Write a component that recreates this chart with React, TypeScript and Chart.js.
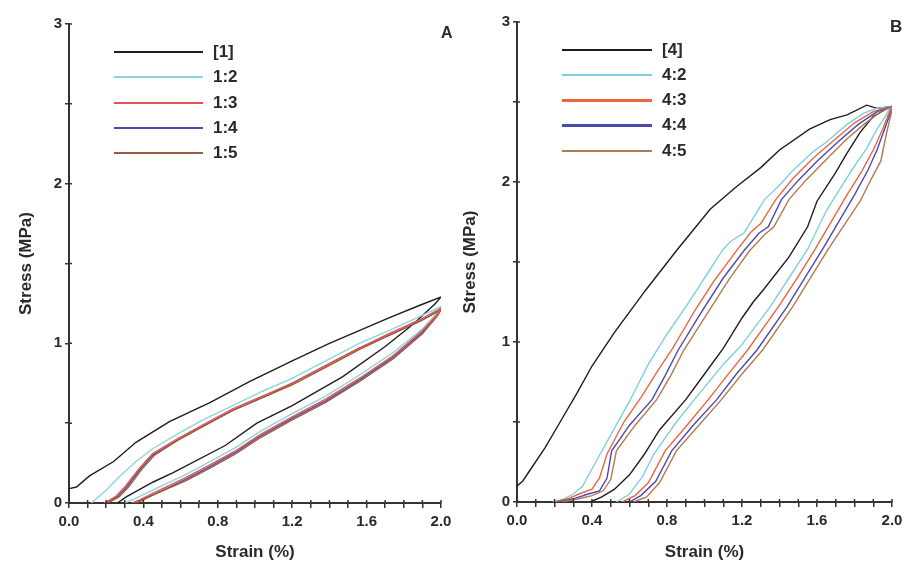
import React, { useEffect, useRef } from "react";
import { Chart, registerables } from "chart.js";
Chart.register(...registerables);

// ---------- Panel A data (strain %, stress MPa), loading then unloading ----------
const A1_strain = [0, 0.04, 0.11, 0.24, 0.36, 0.54, 0.76, 0.97, 1.2, 1.4, 1.56, 1.72, 1.89, 2.0, 1.97, 1.85, 1.7, 1.47, 1.2, 1.01, 0.84, 0.56, 0.45, 0.31, 0.26];
const A1_stress = [0.09, 0.1, 0.17, 0.26, 0.38, 0.51, 0.63, 0.76, 0.89, 1.0, 1.08, 1.16, 1.24, 1.29, 1.25, 1.12, 0.98, 0.79, 0.61, 0.5, 0.36, 0.19, 0.13, 0.04, 0.0];
const A2_strain = [0.12, 0.2, 0.27, 0.36, 0.45, 0.58, 0.72, 0.88, 1.04, 1.2, 1.38, 1.56, 1.72, 1.89, 2.0, 1.98, 1.9, 1.74, 1.56, 1.38, 1.2, 1.03, 0.9, 0.76, 0.63, 0.45, 0.36, 0.3];
const A2_stress = [0, 0.08, 0.165, 0.26, 0.34, 0.43, 0.52, 0.61, 0.7, 0.78, 0.89, 1.0, 1.08, 1.17, 1.23, 1.19, 1.09, 0.94, 0.8, 0.67, 0.56, 0.45, 0.35, 0.26, 0.18, 0.08, 0.03, 0];
const A3_strain = [0.19, 0.25, 0.3, 0.38, 0.45, 0.58, 0.72, 0.88, 1.08, 1.2, 1.38, 1.56, 1.72, 1.89, 2.0, 1.98, 1.9, 1.74, 1.56, 1.38, 1.2, 1.03, 0.9, 0.76, 0.63, 0.45, 0.38, 0.34];
const A3_stress = [0, 0.04, 0.1, 0.22, 0.31, 0.4, 0.49, 0.59, 0.69, 0.75, 0.86, 0.97, 1.06, 1.15, 1.22, 1.18, 1.08, 0.92, 0.78, 0.65, 0.54, 0.43, 0.33, 0.24, 0.16, 0.06, 0.02, 0];
const A4_strain = [0.2, 0.26, 0.31, 0.38, 0.45, 0.58, 0.72, 0.88, 1.08, 1.2, 1.38, 1.56, 1.72, 1.89, 2.0, 1.98, 1.9, 1.74, 1.56, 1.38, 1.2, 1.03, 0.9, 0.76, 0.63, 0.45, 0.39, 0.35];
const A4_stress = [0, 0.04, 0.1, 0.21, 0.3, 0.39, 0.48, 0.58, 0.68, 0.75, 0.86, 0.97, 1.05, 1.14, 1.21, 1.18, 1.07, 0.91, 0.77, 0.64, 0.53, 0.42, 0.32, 0.23, 0.15, 0.05, 0.02, 0];
const A5_strain = [0.21, 0.27, 0.32, 0.39, 0.46, 0.58, 0.72, 0.88, 1.08, 1.2, 1.38, 1.56, 1.72, 1.89, 2.0, 1.98, 1.9, 1.74, 1.56, 1.38, 1.2, 1.03, 0.9, 0.76, 0.63, 0.45, 0.4, 0.36];
const A5_stress = [0, 0.04, 0.1, 0.21, 0.3, 0.39, 0.48, 0.58, 0.68, 0.74, 0.85, 0.96, 1.05, 1.14, 1.21, 1.17, 1.06, 0.9, 0.76, 0.63, 0.52, 0.41, 0.31, 0.22, 0.14, 0.05, 0.02, 0];
const A_labels = ["[1]", "1:2", "1:3", "1:4", "1:5"];

// ---------- Panel B data ----------
const B1_strain = [0, 0.03, 0.07, 0.15, 0.23, 0.32, 0.4, 0.52, 0.69, 0.85, 1.03, 1.17, 1.3, 1.4, 1.56, 1.67, 1.76, 1.865, 1.92, 1.99, 1.9, 1.83, 1.76, 1.7, 1.6, 1.55, 1.45, 1.31, 1.26, 1.2, 1.1, 1.0, 0.9, 0.76, 0.68, 0.6, 0.52, 0.45, 0.39];
const B1_stress = [0.1, 0.13, 0.2, 0.34, 0.5, 0.68, 0.85, 1.06, 1.33, 1.57, 1.83, 1.97, 2.09, 2.2, 2.33, 2.39, 2.42, 2.48, 2.46, 2.47, 2.41, 2.31, 2.18, 2.06, 1.88, 1.72, 1.53, 1.32, 1.25, 1.15, 0.96, 0.8, 0.64, 0.45, 0.3, 0.17, 0.08, 0.03, 0];
const B2_strain = [0.19, 0.25, 0.3, 0.35, 0.42, 0.5, 0.6, 0.7, 0.8, 0.9, 1.0, 1.1, 1.14, 1.21, 1.32, 1.4, 1.47, 1.58, 1.65, 1.76, 1.85, 1.92, 1.99, 1.97, 1.92, 1.865, 1.8, 1.74, 1.65, 1.55, 1.45, 1.35, 1.19, 1.1, 0.96, 0.85, 0.73, 0.67, 0.6, 0.53];
const B2_stress = [0, 0.02, 0.05, 0.1, 0.25, 0.42, 0.63, 0.86, 1.05, 1.22, 1.4, 1.58, 1.63, 1.68, 1.89, 1.98, 2.07, 2.19, 2.25, 2.36, 2.43, 2.46, 2.47, 2.42, 2.33, 2.21, 2.1, 1.99, 1.82, 1.58, 1.4, 1.22, 0.97, 0.86, 0.66, 0.5, 0.3, 0.16, 0.05, 0];
const B3_strain = [0.2, 0.27, 0.33, 0.4, 0.44, 0.48, 0.57, 0.665, 0.75, 0.83, 0.95, 1.05, 1.17, 1.25, 1.3, 1.38, 1.47, 1.58, 1.7, 1.8, 1.9, 1.99, 1.99, 1.95, 1.9, 1.84, 1.76, 1.68, 1.59, 1.5, 1.4, 1.23, 1.12, 1.02, 0.9, 0.79, 0.7, 0.63, 0.56];
const B3_stress = [0, 0.02, 0.05, 0.08, 0.15, 0.3, 0.5, 0.66, 0.82, 0.96, 1.2, 1.38, 1.57, 1.69, 1.74, 1.89, 2.02, 2.15, 2.27, 2.37, 2.44, 2.47, 2.45, 2.33, 2.2, 2.07, 1.92, 1.76, 1.58, 1.41, 1.23, 0.95, 0.79, 0.64, 0.47, 0.32, 0.12, 0.04, 0];
const B4_strain = [0.22, 0.3, 0.38, 0.44, 0.48, 0.505, 0.6, 0.72, 0.79, 0.86, 0.98, 1.1, 1.21, 1.29, 1.34, 1.41, 1.5, 1.6, 1.72, 1.82, 1.92, 2.0, 2.0, 1.96, 1.92, 1.87, 1.8, 1.72, 1.63, 1.54, 1.44, 1.28, 1.17, 1.065, 0.94, 0.825, 0.74, 0.66, 0.6];
const B4_stress = [0, 0.02, 0.05, 0.07, 0.15, 0.32, 0.48, 0.64, 0.79, 0.95, 1.18, 1.4, 1.57, 1.68, 1.72, 1.89, 2.01, 2.13, 2.26, 2.36, 2.44, 2.47, 2.46, 2.33, 2.2, 2.07, 1.92, 1.76, 1.58, 1.41, 1.22, 0.95, 0.8, 0.64, 0.48, 0.32, 0.13, 0.04, 0];
const B5_strain = [0.24, 0.33, 0.4, 0.46, 0.5, 0.53, 0.63, 0.745, 0.82, 0.89, 1.01, 1.13, 1.24, 1.32, 1.37, 1.45, 1.54, 1.64, 1.75, 1.85, 1.94, 2.0, 2.0, 1.97, 1.94, 1.89, 1.83, 1.75, 1.66, 1.57, 1.47, 1.31, 1.2, 1.09, 0.97, 0.85, 0.76, 0.69, 0.62];
const B5_stress = [0, 0.02, 0.04, 0.07, 0.14, 0.32, 0.48, 0.64, 0.79, 0.95, 1.17, 1.39, 1.57, 1.67, 1.72, 1.89, 2.01, 2.13, 2.26, 2.36, 2.44, 2.47, 2.45, 2.3, 2.13, 2.02, 1.88, 1.74, 1.58, 1.41, 1.22, 0.95, 0.8, 0.64, 0.48, 0.32, 0.12, 0.03, 0];
const B_labels = ["[4]", "4:2", "4:3", "4:4", "4:5"];

// axis ticks
const X_MIN = 0, X_MAX = 2.0, X_STEP = 0.1, X_LABEL_EVERY = 0.4;
const Y_MIN = 0, Y_MAX = 3, Y_STEP = 0.5, Y_LABEL_EVERY = 1;

const FONT = "'Liberation Sans', Arial, Helvetica, sans-serif";
const TEXT = "#2a2a2a";

type Series = { label: string; xs: number[]; ys: number[]; color: string; lw: number; order: number };

const innerTicks = {
  id: "innerTicks",
  afterDraw(chart: any) {
    const { ctx, chartArea, scales } = chart;
    ctx.save();
    ctx.strokeStyle = "#333";
    ctx.lineWidth = 1.5;
    ctx.beginPath();
    scales.x.ticks.forEach((_t: any, i: number) => {
      const px = scales.x.getPixelForTick(i);
      ctx.moveTo(px, chartArea.bottom);
      ctx.lineTo(px, chartArea.bottom - 3);
    });
    scales.y.ticks.forEach((_t: any, i: number) => {
      const py = scales.y.getPixelForTick(i);
      ctx.moveTo(chartArea.left, py);
      ctx.lineTo(chartArea.left + 3, py);
    });
    ctx.stroke();
    ctx.restore();
  },
};

function isMultiple(v: number, m: number) {
  const r = v / m;
  return Math.abs(r - Math.round(r)) < 1e-6;
}

type PanelProps = {
  left: number;
  series: Series[];
  padTop: number;
  padRight: number;
  yAxisWidth: number;
  xAxisHeight: number;
  yTitlePad: number;
  legendLineX: number;
  legendLineW: number;
  legendTextX: number;
  legendRowsY: number[];
  letter: string;
  letterX: number;
  letterY: number;
  letterSize: number;
};

function Panel(p: PanelProps) {
  const ref = useRef<HTMLCanvasElement>(null);
  useEffect(() => {
    if (!ref.current) return;
    const chart = new Chart(ref.current, {
      type: "line",
      data: {
        datasets: p.series.map((s) => ({
          label: s.label,
          data: s.xs.map((x, i) => ({ x, y: s.ys[i] })),
          borderColor: s.color,
          backgroundColor: s.color,
          borderWidth: 1.4,
          pointRadius: 0,
          tension: 0,
          fill: false,
          order: s.order,
        })),
      },
      options: {
        animation: false,
        responsive: false,
        maintainAspectRatio: false,
        devicePixelRatio: 1,
        layout: { padding: { top: p.padTop, right: p.padRight, left: 0, bottom: 0 } },
        plugins: { legend: { display: false }, tooltip: { enabled: false } },
        scales: {
          x: {
            type: "linear",
            min: X_MIN,
            max: X_MAX,
            afterFit: (s: any) => { s.height = p.xAxisHeight; },
            afterBuildTicks: (s: any) => {
              const t = [];
              for (let i = 0; i <= Math.round((X_MAX - X_MIN) / X_STEP); i++) t.push({ value: +(X_MIN + i * X_STEP).toFixed(2) });
              s.ticks = t;
            },
            ticks: {
              autoSkip: false,
              maxRotation: 0,
              padding: 5,
              color: TEXT,
              font: { family: FONT, size: 15, weight: "bold" },
              callback: (v: any) => (isMultiple(Number(v), X_LABEL_EVERY) ? Number(v).toFixed(1) : ""),
            },
            grid: { drawOnChartArea: false, drawTicks: true, tickLength: 5, color: "#333", lineWidth: 1.5 },
            border: { display: true, color: "#333", width: 2 },
            title: { display: true, text: "Strain (%)", color: TEXT, font: { family: FONT, size: 17, weight: "bold" }, padding: { top: 0, bottom: 1 } },
          },
          y: {
            type: "linear",
            min: Y_MIN,
            max: Y_MAX,
            afterFit: (s: any) => { s.width = p.yAxisWidth; },
            afterBuildTicks: (s: any) => {
              const t = [];
              for (let i = 0; i <= Math.round((Y_MAX - Y_MIN) / Y_STEP); i++) t.push({ value: Y_MIN + i * Y_STEP });
              s.ticks = t;
            },
            ticks: {
              autoSkip: false,
              padding: 3,
              color: TEXT,
              font: { family: FONT, size: 15, weight: "bold" },
              callback: (v: any) => (isMultiple(Number(v), Y_LABEL_EVERY) ? String(Math.round(Number(v))) : ""),
            },
            grid: { drawOnChartArea: false, drawTicks: true, tickLength: 4, color: "#333", lineWidth: 1.5 },
            border: { display: true, color: "#333", width: 2 },
            title: { display: true, text: "Stress (MPa)", color: TEXT, font: { family: FONT, size: 17, weight: "bold" }, padding: { top: p.yTitlePad, bottom: 0 } },
          },
        },
      },
      plugins: [innerTicks],
    } as any);
    return () => chart.destroy();
  }, []);

  return (
    <div style={{ position: "absolute", left: p.left, top: 0, width: 452, height: 564, overflow: "hidden", background: "#fff" }}>
      <canvas ref={ref} width={490} height={564} style={{ position: "absolute", left: 0, top: 0, width: 490, height: 564 }} />
      {p.series.map((s, i) => (
        <React.Fragment key={s.label}>
          <div style={{ position: "absolute", left: p.legendLineX, top: p.legendRowsY[i] - s.lw / 2, width: p.legendLineW, height: s.lw, background: s.color }} />
          <div style={{ position: "absolute", left: p.legendTextX, top: p.legendRowsY[i] - 11, height: 22, lineHeight: "22px", fontFamily: FONT, fontWeight: "bold", fontSize: 17, color: TEXT, whiteSpace: "nowrap" }}>{s.label}</div>
        </React.Fragment>
      ))}
      <div style={{ position: "absolute", left: p.letterX, top: p.letterY, fontFamily: FONT, fontWeight: "bold", fontSize: p.letterSize, lineHeight: 1, color: TEXT }}>{p.letter}</div>
    </div>
  );
}

const seriesA: Series[] = [
  { label: A_labels[0], xs: A1_strain, ys: A1_stress, color: "#1e1e1e", lw: 2.5, order: 5 },
  { label: A_labels[1], xs: A2_strain, ys: A2_stress, color: "#8fd3e3", lw: 1.2, order: 4 },
  { label: A_labels[2], xs: A3_strain, ys: A3_stress, color: "#e0574c", lw: 2.5, order: 1 },
  { label: A_labels[3], xs: A4_strain, ys: A4_stress, color: "#4c4cad", lw: 2.5, order: 3 },
  { label: A_labels[4], xs: A5_strain, ys: A5_stress, color: "#9c5c3c", lw: 2.5, order: 2 },
];
const seriesB: Series[] = [
  { label: B_labels[0], xs: B1_strain, ys: B1_stress, color: "#1e1e1e", lw: 1.5, order: 5 },
  { label: B_labels[1], xs: B2_strain, ys: B2_stress, color: "#80cfe0", lw: 2.5, order: 4 },
  { label: B_labels[2], xs: B3_strain, ys: B3_stress, color: "#ec6540", lw: 3, order: 3 },
  { label: B_labels[3], xs: B4_strain, ys: B4_stress, color: "#4a4ab0", lw: 3, order: 2 },
  { label: B_labels[4], xs: B5_strain, ys: B5_stress, color: "#b27a50", lw: 1.5, order: 1 },
];

export default function App() {
  return (
    <div style={{ position: "absolute", left: 0, top: 0, width: 904, height: 564, background: "#fff", overflow: "hidden" }}>
      <Panel
        left={0}
        series={seriesA}
        padTop={24}
        padRight={490 - 441}
        yAxisWidth={69}
        xAxisHeight={61}
        yTitlePad={16}
        legendLineX={114}
        legendLineW={89}
        legendTextX={213}
        legendRowsY={[52, 77, 103, 128, 153]}
        letter="A"
        letterX={441}
        letterY={25}
        letterSize={16}
      />
      <Panel
        left={452}
        series={seriesB}
        padTop={22}
        padRight={490 - 440}
        yAxisWidth={65}
        xAxisHeight={62}
        yTitlePad={8}
        legendLineX={110}
        legendLineW={90}
        legendTextX={210}
        legendRowsY={[50, 75, 100, 125, 151]}
        letter="B"
        letterX={438}
        letterY={18}
        letterSize={17}
      />
    </div>
  );
}
